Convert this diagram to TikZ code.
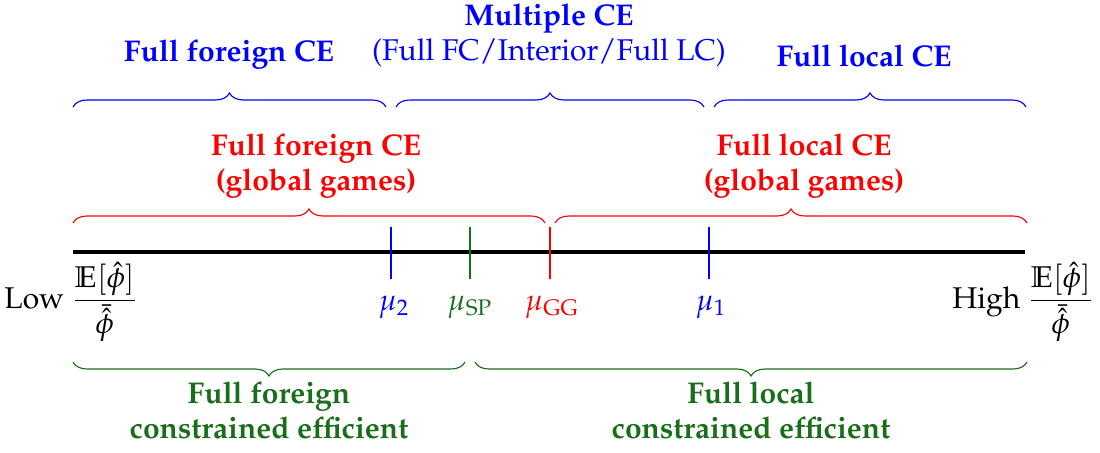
\documentclass[tikz,border=0pt]{standalone}
\usepackage{amsmath,amssymb}
\usepackage[T1]{fontenc}
\usepackage{mathpazo}
\usetikzlibrary{decorations.pathreplacing}
\definecolor{cegreen}{RGB}{25,110,25}
\definecolor{ceblue}{RGB}{0,0,255}
\definecolor{cered}{RGB}{255,0,0}
\tikzset{
  bracedeco/.style={decorate, decoration={brace, amplitude=5.6pt}, line width=0.45pt},
  lbl/.style={font=\large\bfseries, align=center, anchor=base, inner sep=0pt},
  plain/.style={font=\large, anchor=base, inner sep=0pt},
  tickmark/.style={line width=1.1pt},
  axis/.style={line width=1.25pt, black}
}
\begin{document}
\begin{tikzpicture}[x=0.4pt,y=-0.4pt]
\useasboundingbox (0,0) rectangle (1100,453);

% axis
\coordinate (axL) at (73,252);
\coordinate (axR) at (1025,252);
\draw[axis] (axL) -- (axR);

% ticks
\coordinate (m2t) at (391,227); \coordinate (m2b) at (391,279);
\coordinate (spt) at (470,227); \coordinate (spb) at (470,279);
\coordinate (ggt) at (550,227); \coordinate (ggb) at (550,279);
\coordinate (m1t) at (709,227); \coordinate (m1b) at (709,279);
\draw[tickmark, ceblue] (m2t) -- (m2b);
\draw[tickmark, cegreen] (spt) -- (spb);
\draw[tickmark, cered] (ggt) -- (ggb);
\draw[tickmark, ceblue] (m1t) -- (m1b);

\node[plain, text=ceblue] (mu2) at (394,310) {$\mu_2$};
\node[plain, text=cegreen] (musp) at (470,310) {$\mu_{\mathrm{SP}}$};
\node[plain, text=cered] (mugg) at (552,310) {$\mu_{\mathrm{GG}}$};
\node[plain, text=ceblue] (mu1) at (711,310) {$\mu_1$};

% ends
\node[plain] (low) at (71,308) {Low $\dfrac{\mathbb{E}[\hat{\phi}]}{\bar{\hat{\phi}}}$};
\node[plain] (high) at (1023,308) {High $\dfrac{\mathbb{E}[\hat{\phi}]}{\bar{\hat{\phi}}}$};

% blue braces
\coordinate (b1s) at (73,107);  \coordinate (b1e) at (386,107);
\coordinate (b2s) at (396,107); \coordinate (b2e) at (704,107);
\coordinate (b3s) at (714,107); \coordinate (b3e) at (1026,107);
\draw[bracedeco, ceblue] (b1s) -- (b1e);
\draw[bracedeco, ceblue] (b2s) -- (b2e);
\draw[bracedeco, ceblue] (b3s) -- (b3e);
\node[lbl, text=ceblue] (bl1) at (229,61) {Full foreign CE};
\node[lbl, text=ceblue] (bl2) at (549,25) {Multiple CE};
\node[plain, text=ceblue] (bl2b) at (549,60) {(Full FC/Interior/Full LC)};
\node[lbl, text=ceblue] (bl3) at (864,66) {Full local CE};

% red braces
\coordinate (r1s) at (73,223);  \coordinate (r1e) at (545,223);
\coordinate (r2s) at (555,223); \coordinate (r2e) at (1027,223);
\draw[bracedeco, cered] (r1s) -- (r1e);
\draw[bracedeco, cered] (r2s) -- (r2e);
\node[lbl, text=cered] (rl1) at (316,190) {Full foreign CE\\(global games)};
\node[lbl, text=cered] (rl2) at (804,190) {Full local CE\\(global games)};

% green braces
\coordinate (g1s) at (73,362);  \coordinate (g1e) at (465,362);
\coordinate (g2s) at (475,362); \coordinate (g2e) at (1027,362);
\draw[bracedeco, cegreen] (g1e) -- (g1s);
\draw[bracedeco, cegreen] (g2e) -- (g2s);
\node[lbl, text=cegreen] (gl1) at (269,438) {Full foreign\\constrained efficient};
\node[lbl, text=cegreen] (gl2) at (751,438) {Full local\\constrained efficient};
\end{tikzpicture}
\end{document}
